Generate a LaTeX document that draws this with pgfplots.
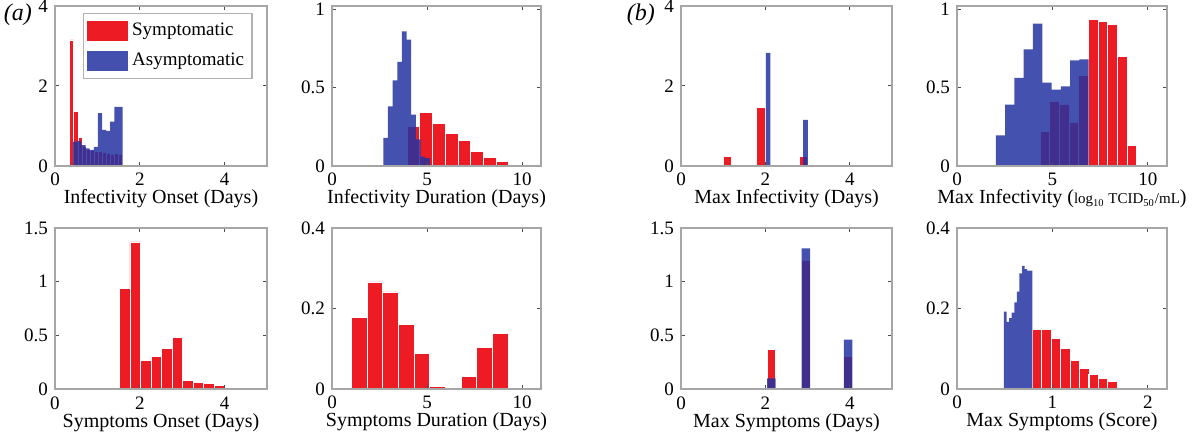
\documentclass[border=0pt]{standalone}
\usepackage{fontspec}
\setmainfont{Liberation Serif}
\usepackage{pgfplots}
\pgfplotsset{compat=1.18}
\definecolor{symred}{RGB}{237,28,36}
\definecolor{asymblue}{RGB}{35,50,160}
\pgfplotsset{
  panel/.style={
    scale only axis,
    height=80pt,
    xmin=0, ymin=0,
    axis on top,
    clip mode=individual,
    axis line style={draw=gray!70, line width=0.8pt},
    tick align=inside,
    major tick length=2pt,
    tick style={draw=black!70, line width=0.5pt},
    tick label style={font=\rmfamily\fontsize{9.5}{11}\selectfont},
    /pgf/number format/assume math mode=true,
    xticklabel style={anchor=base, yshift=-10pt},
    label style={font=\rmfamily\fontsize{10}{12}\selectfont},
    every axis x label/.style={at={(axis description cs:0.5,0)}, anchor=base, yshift=-19pt},
  },
  sym/.style={ybar, bar shift=0pt, bar width=#1, fill=symred, draw=white, line width=0.4pt},
  asym/.style={ybar, bar shift=0pt, bar width=#1, fill=asymblue, fill opacity=0.85, draw=none},
}
\begin{document}
\begin{tikzpicture}
\useasboundingbox (0,0) rectangle (600pt,-219pt);

% (a) Infectivity onset
\begin{axis}[panel, at={(27.5pt,-3pt)}, anchor=north west, width=106pt,
    xmax=5, ymax=4, xtick={0,2,4}, ytick={0,2,4},
    xlabel={Infectivity Onset (Days)},
    legend style={at={(axis description cs:0.13,0.958)}, anchor=north west,
      draw=gray!60, line width=0.6pt, font=\rmfamily\fontsize{9.5}{11}\selectfont,
      inner xsep=2pt, inner ysep=3pt, row sep=3pt, cells={anchor=west}},
    legend image code/.code={\path[#1, draw=none] (0pt,-5pt) rectangle (20.5pt,5pt);},
]
\addplot[sym=0.095] coordinates {
  (0.398,3.15) (0.493,1.36) (0.588,0.72) (0.683,0.50) (0.778,0.42) (0.873,0.38)
  (0.968,0.36) (1.063,0.36) (1.158,0.33) (1.253,0.32) (1.348,0.30) (1.443,0.32) (1.538,0.30)
};
\addlegendentry{Symptomatic}
\addplot[asym=0.097] coordinates {
  (0.4785,0.61) (0.5755,0.63) (0.6725,0.52) (0.7695,0.44) (0.8665,0.40) (0.9635,0.48)
  (1.0605,1.32) (1.1575,0.90) (1.2545,0.88) (1.3515,1.11) (1.4485,1.48) (1.5455,1.48)
};
\addlegendentry{Asymptomatic}
\node[font=\rmfamily\fontsize{12}{14}\selectfont\itshape] at (axis description cs:-0.175,0.944) {(a)};
\end{axis}

% (a) Infectivity duration
\begin{axis}[panel, at={(166pt,-3pt)}, anchor=north west, width=104.5pt,
    xmax=11, ymax=1.02, xtick={0,5,10}, ytick={0,0.5,1},
    xlabel={Infectivity Duration (Days)}]
\addplot[sym=0.67] coordinates {
  (4.285,0.25) (4.955,0.34) (5.625,0.27) (6.295,0.21) (6.965,0.16)
  (7.635,0.094) (8.305,0.053) (8.975,0.03) (9.645,0.004) (10.315,0.01)
};
\addplot[asym=0.245] coordinates {
  (2.8225,0.18) (3.0675,0.38) (3.3125,0.546) (3.5575,0.663) (3.8025,0.858)
  (4.0475,0.806) (4.2925,0.328) (4.5375,0.17) (4.7825,0.06) (5.0275,0.05)
};
\end{axis}

% (b) Max infectivity (days)
\begin{axis}[panel, at={(340.5pt,-3pt)}, anchor=north west, width=105.5pt,
    xmax=5, ymax=4, xtick={0,2,4}, ytick={0,2,4},
    xlabel={Max Infectivity (Days)}]
\addplot[sym=0.2] coordinates {(1.10,0.23) (1.89,1.47) (2.90,0.23)};
\addplot[asym=0.11] coordinates {(2.065,2.83) (2.95,1.15)};
\node[font=\rmfamily\fontsize{12}{14}\selectfont\itshape] at (axis description cs:-0.19,0.944) {(b)};
\end{axis}

% (b) Max infectivity (titre)
\begin{axis}[panel, at={(478.5pt,-3pt)}, anchor=north west, width=105pt,
    xmax=11, ymax=1.02, xtick={0,5,10}, ytick={0,0.5,1},
    xlabel={Max Infectivity ({\fontsize{7.5}{9}\selectfont log\textsubscript{10} TCID\textsubscript{50}/mL})}]
\addplot[sym=0.506] coordinates {
  (4.603,0.22) (5.109,0.41) (5.615,0.39) (6.121,0.28) (6.627,0.58)
  (7.133,0.933) (7.639,0.92) (8.145,0.90) (8.651,0.70) (9.157,0.13)
};
\addplot[asym=0.485] coordinates {
  (2.2825,0.196) (2.7675,0.391) (3.2525,0.561) (3.7375,0.744) (4.2225,0.907)
  (4.7075,0.531) (5.1925,0.487) (5.6775,0.508) (6.1625,0.674) (6.6475,0.68)
};
\end{axis}

% (a) Symptoms onset
\begin{axis}[panel, at={(27.5pt,-114pt)}, anchor=north west, width=106pt, height=80.5pt,
    xmax=5, ymax=1.5, xtick={0,2,4}, ytick={0,0.5,1,1.5},
    xlabel={Symptoms Onset (Days)}]
\addplot[sym=0.248] coordinates {
  (1.644,0.94) (1.892,1.37) (2.140,0.27) (2.388,0.30) (2.636,0.376)
  (2.884,0.48) (3.132,0.078) (3.380,0.062) (3.628,0.05) (3.876,0.034)
};
\end{axis}

% (a) Symptoms duration
\begin{axis}[panel, at={(166pt,-114pt)}, anchor=north west, width=104.5pt, height=80.5pt,
    xmax=11, ymax=0.4, xtick={0,5,10}, ytick={0,0.2,0.4},
    xlabel={Symptoms Duration (Days)}]
\addplot[sym=0.825] coordinates {
  (1.4325,0.178) (2.2575,0.266) (3.0825,0.241) (3.9075,0.16) (4.7325,0.089)
  (5.5575,0.0066) (7.2075,0.031) (8.0325,0.1035) (8.8575,0.137)
};
\end{axis}

% (b) Max symptoms (days)
\begin{axis}[panel, at={(340.5pt,-114pt)}, anchor=north west, width=105.5pt, height=80.5pt,
    xmax=5, ymax=1.5, xtick={0,2,4}, ytick={0,0.5,1,1.5},
    xlabel={Max Symptoms (Days)}]
\addplot[sym=0.2] coordinates {(2.14,0.366) (2.96,1.20) (3.96,0.30)};
\addplot[asym=0.2] coordinates {(2.14,0.10) (2.96,1.31) (3.96,0.46)};
\end{axis}

% (b) Max symptoms (score)
\begin{axis}[panel, at={(478.5pt,-114pt)}, anchor=north west, width=105pt, height=80.5pt,
    xmax=2.2, ymax=0.4, xtick={0,1,2}, ytick={0,0.2,0.4},
    xlabel={Max Symptoms (Score)}]
\addplot[sym=0.0988] coordinates {
  (0.838,0.148) (0.937,0.147) (1.036,0.126) (1.135,0.101) (1.234,0.072)
  (1.333,0.051) (1.431,0.037) (1.530,0.0265) (1.629,0.018) (1.728,0.004)
};
\addplot[asym=0.027] coordinates {
  (0.5055,0.192) (0.5325,0.167) (0.5595,0.176) (0.5865,0.19) (0.6135,0.215)
  (0.6405,0.242) (0.6675,0.287) (0.6945,0.306) (0.7215,0.298) (0.7485,0.294) (0.7755,0.294)
};
\end{axis}
\end{tikzpicture}
\end{document}
